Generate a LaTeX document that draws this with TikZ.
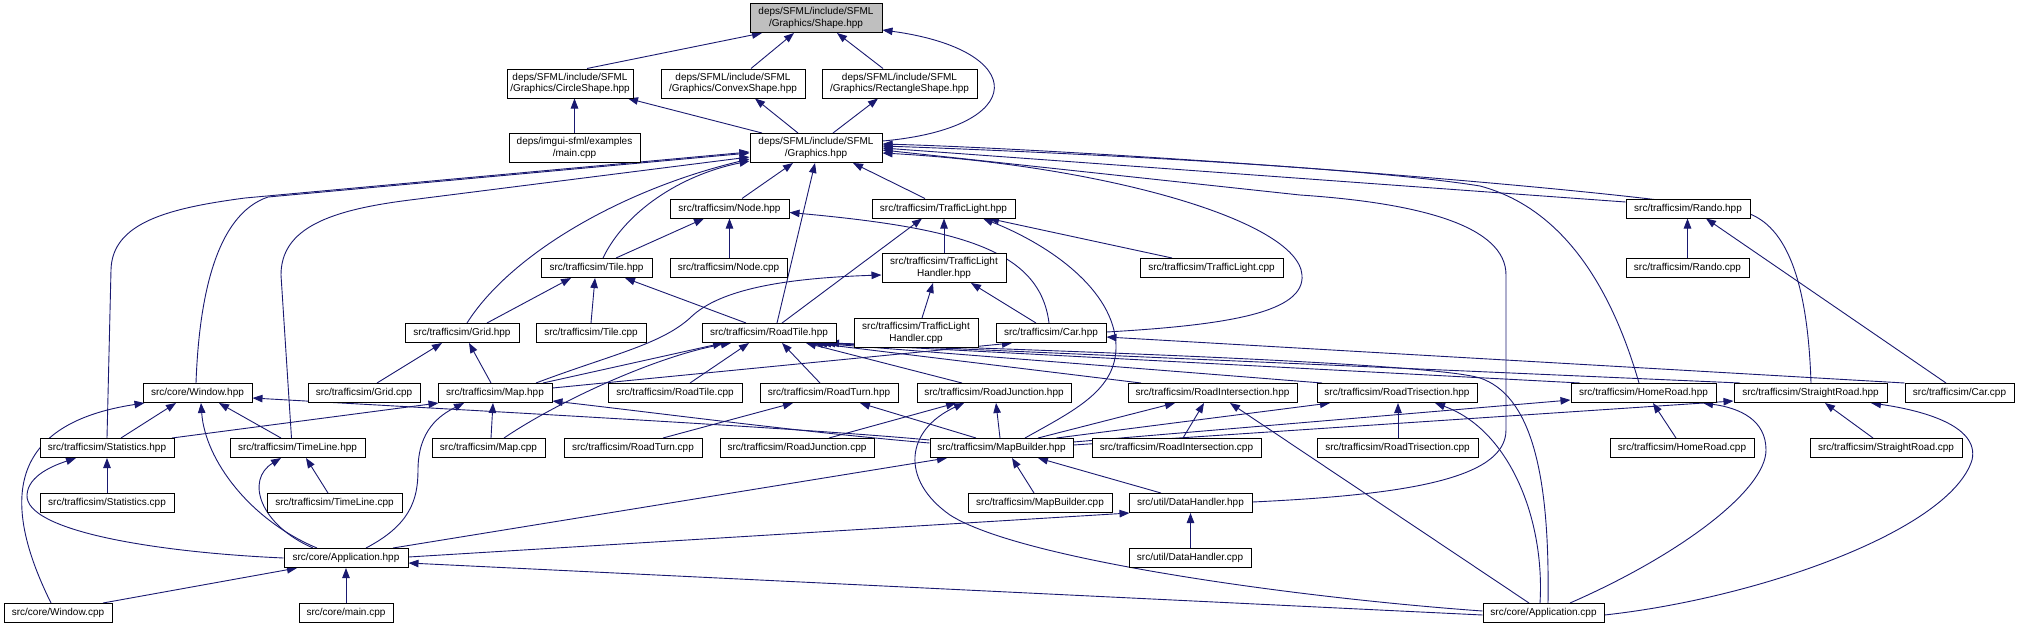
\documentclass[tikz,border=0pt]{standalone}
\usepackage{fontspec}
\setmainfont{Liberation Sans}
\usetikzlibrary{arrows.meta,backgrounds}
\definecolor{edgec}{HTML}{191970}
\definecolor{shapegray}{HTML}{BFBFBF}
\tikzset{
  box/.style={draw=black, line width=1pt, fill=white, inner sep=0pt, align=center,
    font=\fontsize{10}{11.5}\selectfont, minimum height=19pt},
  two/.style={minimum height=29pt},
  e/.style={draw=edgec, line width=0.9pt, -{Triangle[length=10pt,width=7.5pt]}},
}
\begin{document}
\begin{tikzpicture}[x=1pt,y=-1pt]
\useasboundingbox (0,0) rectangle (2019,627);
% row 1-3
\node[box,two,fill=shapegray,minimum width=132pt] (shape) at (816,18) {deps/SFML/include/SFML\\/Graphics/Shape.hpp};
\node[box,two,minimum width=126pt] (circle) at (570,83.5) {deps/SFML/include/SFML\\/Graphics/CircleShape.hpp};
\node[box,two,minimum width=144pt] (convex) at (733,83.5) {deps/SFML/include/SFML\\/Graphics/ConvexShape.hpp};
\node[box,two,minimum width=155pt] (rect) at (899.5,83.5) {deps/SFML/include/SFML\\/Graphics/RectangleShape.hpp};
\node[box,two,minimum width=131pt] (imgui) at (574.5,148) {deps/imgui-sfml/examples\\/main.cpp};
\node[box,two,minimum width=132pt] (graphics) at (816,148) {deps/SFML/include/SFML\\/Graphics.hpp};
% row 208
\node[box,minimum width=119pt] (node) at (729.5,208.5) {src/trafficsim/Node.hpp};
\node[box,minimum width=143pt] (tlight) at (943.5,208.5) {src/trafficsim/TrafficLight.hpp};
\node[box,minimum width=124pt] (rando) at (1688,208.5) {src/trafficsim/Rando.hpp};
% row 268
\node[box,minimum width=111pt] (tile) at (596.5,268) {src/trafficsim/Tile.hpp};
\node[box,minimum width=117pt] (nodecpp) at (728.5,268) {src/trafficsim/Node.cpp};
\node[box,two,minimum width=124pt] (tlh) at (944,268) {src/trafficsim/TrafficLight\\Handler.hpp};
\node[box,minimum width=143pt] (tlcpp) at (1211.5,268) {src/trafficsim/TrafficLight.cpp};
\node[box,minimum width=123pt] (randocpp) at (1687.5,268) {src/trafficsim/Rando.cpp};
% row 333
\node[box,minimum width=114pt] (grid) at (462,333) {src/trafficsim/Grid.hpp};
\node[box,minimum width=110pt] (tilecpp) at (591,333) {src/trafficsim/Tile.cpp};
\node[box,minimum width=134pt] (roadtile) at (769,333) {src/trafficsim/RoadTile.hpp};
\node[box,two,minimum width=124pt] (tlhcpp) at (916,333) {src/trafficsim/TrafficLight\\Handler.cpp};
\node[box,minimum width=110pt] (car) at (1051,333) {src/trafficsim/Car.hpp};
% row 393
\node[box,minimum width=109pt] (window) at (197.5,393) {src/core/Window.hpp};
\node[box,minimum width=112pt] (gridcpp) at (364,393) {src/trafficsim/Grid.cpp};
\node[box,minimum width=114pt] (map) at (495,393) {src/trafficsim/Map.hpp};
\node[box,minimum width=134pt] (roadtilecpp) at (675,393) {src/trafficsim/RoadTile.cpp};
\node[box,minimum width=138pt] (roadturn) at (829,393) {src/trafficsim/RoadTurn.hpp};
\node[box,minimum width=154pt] (roadjunction) at (994,393) {src/trafficsim/RoadJunction.hpp};
\node[box,minimum width=169pt] (roadinter) at (1212.5,393) {src/trafficsim/RoadIntersection.hpp};
\node[box,minimum width=160pt] (roadtri) at (1397,393) {src/trafficsim/RoadTrisection.hpp};
\node[box,minimum width=145pt] (homeroad) at (1643.5,393) {src/trafficsim/HomeRoad.hpp};
\node[box,minimum width=153pt] (straight) at (1810.5,393) {src/trafficsim/StraightRoad.hpp};
\node[box,minimum width=109pt] (carcpp) at (1959.5,393) {src/trafficsim/Car.cpp};
% row 448
\node[box,minimum width=134pt] (stats) at (107,448) {src/trafficsim/Statistics.hpp};
\node[box,minimum width=135pt] (tline) at (297.5,448) {src/trafficsim/TimeLine.hpp};
\node[box,minimum width=113pt] (mapcpp) at (488.5,448) {src/trafficsim/Map.cpp};
\node[box,minimum width=138pt] (roadturncpp) at (633,448) {src/trafficsim/RoadTurn.cpp};
\node[box,minimum width=154pt] (rjcpp) at (797,448) {src/trafficsim/RoadJunction.cpp};
\node[box,minimum width=143pt] (mapbuilder) at (1001.5,448) {src/trafficsim/MapBuilder.hpp};
\node[box,minimum width=169pt] (ricpp) at (1176.5,448) {src/trafficsim/RoadIntersection.cpp};
\node[box,minimum width=161pt] (rtcpp) at (1397.5,448) {src/trafficsim/RoadTrisection.cpp};
\node[box,minimum width=144pt] (hrcpp) at (1682,448) {src/trafficsim/HomeRoad.cpp};
\node[box,minimum width=152pt] (scpp) at (1886,448) {src/trafficsim/StraightRoad.cpp};
% row 503
\node[box,minimum width=134pt] (statscpp) at (107,503) {src/trafficsim/Statistics.cpp};
\node[box,minimum width=135pt] (tlinecpp) at (334.5,503) {src/trafficsim/TimeLine.cpp};
\node[box,minimum width=144pt] (mbcpp) at (1040,503) {src/trafficsim/MapBuilder.cpp};
\node[box,minimum width=123pt] (dhhpp) at (1190.5,503) {src/util/DataHandler.hpp};
% row 558
\node[box,minimum width=124pt] (app) at (346,558) {src/core/Application.hpp};
\node[box,minimum width=122pt] (dhcpp) at (1190,558) {src/util/DataHandler.cpp};
% row 613
\node[box,minimum width=108pt] (windowcpp) at (58,613) {src/core/Window.cpp};
\node[box,minimum width=94pt] (maincpp) at (346,613) {src/core/main.cpp};
\node[box,minimum width=121pt] (appcpp) at (1543.5,613) {src/core/Application.cpp};

\begin{pgfonlayer}{background}
% top
\draw[e] ([xshift=17pt]circle.north) -- ([xshift=-54pt]shape.south);
\draw[e] ([xshift=18pt]convex.north) -- ([xshift=-22pt]shape.south);
\draw[e] ([xshift=-16.5pt]rect.north) -- ([xshift=21pt]shape.south);
\draw[e] ([yshift=7pt]graphics.east) .. controls (1030,128) and (1030,50) .. ([yshift=-12pt]shape.east);
\draw[e] (imgui.north) -- (imgui.north |- circle.south);
\draw[e] ([xshift=-54pt]graphics.north) -- ([xshift=58pt]circle.south);
\draw[e] ([xshift=-18pt]graphics.north) -- ([xshift=22pt]convex.south);
\draw[e] ([xshift=17pt]graphics.north) -- ([xshift=-21.5pt]rect.south);
% into graphics
\draw[e] ([xshift=12.5pt]node.north) -- ([xshift=-23pt]graphics.south);
\draw[e] ([xshift=8pt]roadtile.north) -- ([xshift=-1pt]graphics.south);
\draw[e] ([xshift=-18.5pt]tlight.north) -- ([xshift=37pt]graphics.south);
\draw[e] ([xshift=6.5pt]tile.north) .. controls (625,212) and (680,175) .. ([yshift=-13pt]graphics.west);
\draw[e] ([xshift=5pt]grid.north) .. controls (510,255) and (620,190) .. ([yshift=-11pt]graphics.west);
\draw[e] ([xshift=-1.5pt]window.north) .. controls (199,300) and (215,215) .. (268,197) -- ([yshift=-5pt]graphics.west);
\draw[e] (stats.north) -- (111,270) .. controls (112,222) and (170,208) .. (245,198) -- ([yshift=-4pt]graphics.west);
\draw[e] ([xshift=-6pt]tline.north) -- (281,275) .. controls (281,228) and (330,210) .. (410,200) -- ([yshift=-9pt]graphics.west);
\draw[e] ([yshift=1pt]car.east) .. controls (1230,325) and (1305,312) .. (1302,275) .. controls (1298,220) and (1100,165) .. ([yshift=-5pt]graphics.east);
\draw[e] ([yshift=6.5pt]rando.west) -- (graphics.east);
\draw[e] ([xshift=-4.5pt]homeroad.north) .. controls (1615,300) and (1570,210) .. (1480,186) .. controls (1350,165) and (1000,150) .. ([yshift=2pt]graphics.east);
\draw[e] ([xshift=0.5pt]straight.north) .. controls (1808,290) and (1790,230) .. (1750,214) .. controls (1650,190) and (1100,150) .. ([yshift=4pt]graphics.east);
\draw[e] ([yshift=1pt]dhhpp.east) .. controls (1400,495) and (1506,480) .. (1506,430) -- (1506,275) .. controls (1506,226) and (1420,203) .. (1300,195) -- ([yshift=-2pt]graphics.east);
% node
\draw[e] ([xshift=19.5pt]tile.north) -- ([xshift=-25.5pt]node.south);
\draw[e] ([xshift=1pt]nodecpp.north) -- (node.south);
\draw[e] ([xshift=-2pt]car.north) .. controls (1040,250) and (960,228) .. ([yshift=-4pt]node.east);
% traffic light
\draw[e] ([xshift=13pt]roadtile.north) -- ([xshift=-21.5pt]tlight.south);
\draw[e] (tlh.north) -- ([xshift=0.5pt]tlight.south);
\draw[e] ([xshift=-39.5pt]tlcpp.north) -- ([xshift=45.5pt]tlight.south);
\draw[e] ([xshift=23.5pt]mapbuilder.north) .. controls (1075,410) and (1117,390) .. (1116,345) .. controls (1114,290) and (1050,245) .. ([xshift=39.5pt]tlight.south);
% rando
\draw[e] (randocpp.north) -- (randocpp.north |- rando.south);
\draw[e] ([xshift=-13.5pt]carcpp.north) -- ([xshift=18pt]rando.south);
% traffic light handler
\draw[e] ([xshift=6pt]tlhcpp.north) -- ([xshift=-11pt]tlh.south);
\draw[e] ([xshift=-15pt]car.north) -- ([xshift=27pt]tlh.south);
\draw[e] ([xshift=41pt]map.north) .. controls (610,355) and (660,345) .. (690,318) .. controls (720,288) and (790,278) .. ([yshift=-7pt]tlh.west);
% tile
\draw[e] ([xshift=25pt]grid.north) -- ([xshift=-25.5pt]tile.south);
\draw[e] (tilecpp.north) -- ([xshift=-1.5pt]tile.south);
\draw[e] ([xshift=-23pt]roadtile.north) -- ([xshift=28.5pt]tile.south);
% grid
\draw[e] ([xshift=13pt]gridcpp.north) -- ([xshift=-20pt]grid.south);
\draw[e] ([xshift=-4pt]map.north) -- ([xshift=7pt]grid.south);
% roadtile
\draw[e] ([xshift=48pt]map.north) -- ([xshift=-46pt]roadtile.south);
\draw[e] ([xshift=15.5pt]mapcpp.north) .. controls (560,400) and (660,355) .. ([xshift=-38pt]roadtile.south);
\draw[e] ([xshift=15pt]roadtilecpp.north) -- ([xshift=-20pt]roadtile.south);
\draw[e] ([xshift=-9pt]roadturn.north) -- ([xshift=13pt]roadtile.south);
\draw[e] ([xshift=-32pt]roadjunction.north) -- ([xshift=37pt]roadtile.south);
\draw[e] ([xshift=-71.5pt]roadinter.north) -- ([xshift=44pt]roadtile.south);
\draw[e] ([xshift=-75pt]roadtri.north) -- ([xshift=48pt]roadtile.south);
\draw[e] ([xshift=-63.5pt]homeroad.north) -- ([xshift=52pt]roadtile.south);
\draw[e] ([xshift=-70.5pt]straight.north) -- ([xshift=56pt]roadtile.south);
\draw[e] ([xshift=4.5pt]appcpp.north) .. controls (1550,470) and (1530,395) .. (1480,378) .. controls (1440,366) and (1200,355) .. ([xshift=60pt]roadtile.south);
% car
\draw[e] ([yshift=5pt]map.east) -- ([xshift=-39pt]car.south);
\draw[e] (carcpp.north west) -- ([yshift=-4pt]car.east);
% window
\draw[e] ([xshift=14pt]stats.north) -- ([xshift=-21.5pt]window.south);
\draw[e] ([xshift=-16.5pt]tline.north) -- ([xshift=21.5pt]window.south);
\draw[e] ([xshift=-29pt]app.north) .. controls (250,520) and (205,460) .. ([xshift=3.5pt]window.south);
\draw[e] ([xshift=-7pt]windowcpp.north) .. controls (5,510) and (0,425) .. ([xshift=2pt]window.south west);
\draw[e] ([yshift=8pt]mapbuilder.west) .. controls (800,428) and (500,412) .. ([yshift=-5pt]window.east);
% map
\draw[e] ([xshift=2.5pt]mapcpp.north) -- ([xshift=-2pt]map.south);
\draw[e] ([xshift=20pt]app.north) .. controls (410,525) and (418,500) .. (418,470) .. controls (418,430) and (440,415) .. ([xshift=-31pt]map.south);
\draw[e] ([xshift=65pt]stats.north) -- ([xshift=1pt]map.south west);
\draw[e] ([yshift=5pt]mapbuilder.west) .. controls (800,432) and (650,412) .. ([yshift=-8pt]map.east);
% statistics
\draw[e] (statscpp.north) -- (stats.south);
\draw[e] (app.west) .. controls (150,552) and (25,530) .. (27,495) .. controls (28,475) and (55,465) .. ([xshift=-31pt]stats.south);
% timeline
\draw[e] ([xshift=-6.5pt]tlinecpp.north) -- ([xshift=8.5pt]tline.south);
\draw[e] ([xshift=-33pt]app.north) .. controls (260,525) and (245,480) .. ([xshift=-16.5pt]tline.south);
% road turn
\draw[e] ([xshift=30pt]roadturncpp.north) -- ([xshift=-36pt]roadturn.south);
\draw[e] ([xshift=-25.5pt]mapbuilder.north) -- ([xshift=31pt]roadturn.south);
% road junction
\draw[e] ([xshift=32pt]rjcpp.north) -- ([xshift=-38pt]roadjunction.south);
\draw[e] ([xshift=-1.5pt]mapbuilder.north) -- ([xshift=2pt]roadjunction.south);
\draw[e] ([yshift=2pt]appcpp.west) .. controls (1300,598) and (1020,560) .. (950,515) .. controls (900,480) and (905,430) .. ([xshift=-30pt]roadjunction.south);
% road intersection
\draw[e] ([xshift=6.5pt]ricpp.north) -- ([xshift=-8.5pt]roadinter.south);
\draw[e] ([xshift=36.5pt]mapbuilder.north) -- ([xshift=-37.5pt]roadinter.south);
\draw[e] ([xshift=-14.5pt]appcpp.north) -- ([xshift=17.5pt]roadinter.south);
% road trisection
\draw[e] ([xshift=0.5pt]rtcpp.north) -- ([xshift=1pt]roadtri.south);
\draw[e] ([xshift=55pt]mapbuilder.north) -- ([xshift=-67pt]roadtri.south);
\draw[e] ([xshift=-3.5pt]appcpp.north) .. controls (1545,520) and (1510,430) .. ([xshift=38pt]roadtri.south);
% home road
\draw[e] ([xshift=-6pt]hrcpp.north) -- ([xshift=9.5pt]homeroad.south);
\draw[e] ([yshift=6pt]mapbuilder.east) -- ([yshift=-7pt]homeroad.west);
\draw[e] ([xshift=26.5pt]appcpp.north) .. controls (1680,555) and (1766,490) .. (1766,450) .. controls (1766,420) and (1740,408) .. ([xshift=59.5pt]homeroad.south);
% straight road
\draw[e] ([xshift=-13pt]scpp.north) -- ([xshift=14.5pt]straight.south);
\draw[e] ([yshift=3pt]mapbuilder.east) -- ([yshift=-8pt]straight.west);
\draw[e] ([yshift=-2pt]appcpp.east) .. controls (1760,598) and (1950,530) .. (1972,460) .. controls (1980,425) and (1920,410) .. ([xshift=60.5pt]straight.south);
% map builder
\draw[e] ([xshift=47pt]app.north) -- ([xshift=-54.5pt]mapbuilder.south);
\draw[e] ([xshift=-6pt]mbcpp.north) -- ([xshift=10.5pt]mapbuilder.south);
\draw[e] ([xshift=-29.5pt]dhhpp.north) -- ([xshift=36.5pt]mapbuilder.south);
% data handler
\draw[e] ([yshift=1pt]app.east) -- ([xshift=1pt]dhhpp.south west);
\draw[e] ([xshift=0.5pt]dhcpp.north) -- (dhhpp.south);
% application
\draw[e] ([xshift=45pt]windowcpp.north) -- ([xshift=-49pt]app.south);
\draw[e] (maincpp.north) -- (app.south);
\draw[e] ([yshift=-2pt]appcpp.west) -- ([yshift=-5pt]app.east);
\end{pgfonlayer}
\end{tikzpicture}
\end{document}
